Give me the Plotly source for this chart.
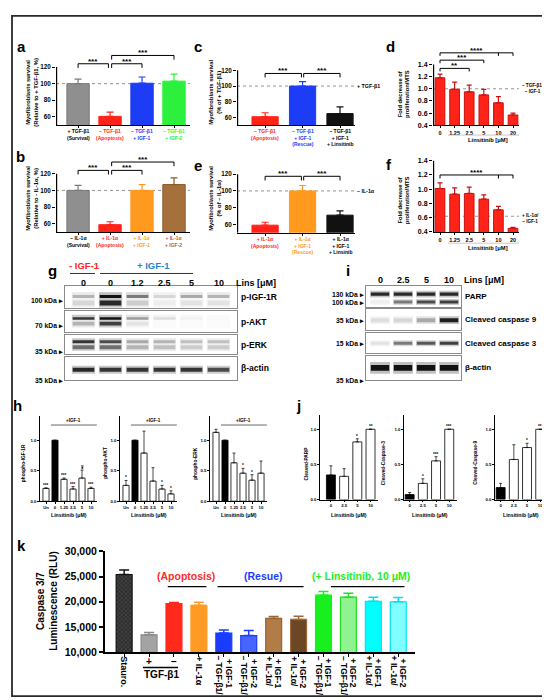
import plotly.graph_objects as go

W, H = 550, 700
FONT = "Liberation Sans"

RED = "#ff2318"
BLUE = "#1d3cf5"
GREEN = "#2cf03c"
ORANGE = "#ff9a1f"
BROWN = "#a5703c"
GRAY = "#8f8f8f"

# ---- a / b : myofibroblast survival (%) ----
a_labels = ["+ TGF-β1<br>(Survival)", "– TGF-β1<br>(Apoptosis)", "– TGF-β1<br>+ IGF-1", "– TGF-β1<br>+ IGF-2"]
a_vals = [100, 60.5, 100.5, 103]
a_err = [5.5, 5, 7.5, 8.5]
b_labels = ["– IL-1α<br>(Survival)", "+ IL-1α<br>(Apoptosis)", "+ IL-1α<br>+ IGF-1", "+ IL-1α<br>+ IGF-2"]
b_vals = [100, 59, 100, 107]
b_err = [6, 3.5, 7, 8]

# ---- c / e ----
c_labels = ["– TGF-β1<br>(Apoptosis)", "– TGF-β1<br>+ IGF-1<br>(Rescue)", "– TGF-β1<br>+ IGF-1<br>+ Linsitinib"]
c_vals = [61, 100, 65]
c_err = [5, 5.5, 8.5]
e_labels = ["+ IL-1α<br>(Apoptosis)", "+ IL-1α<br>+ IGF-1<br>(Rescue)", "+ IL-1α<br>+ IGF-1<br>+ Linsinib"]
e_vals = [59, 100, 71]
e_err = [3.5, 6.5, 5]

# ---- d / f : proliferation (MTS) ----
lins_df = ["0", "1.25", "2.5", "5", "10", "20"]
d_vals = [1.18, 0.99, 0.95, 0.90, 0.77, 0.57]
d_err = [0.06, 0.12, 0.11, 0.09, 0.10, 0.03]
f_vals = [1.01, 0.93, 0.94, 0.86, 0.71, 0.45]
f_err = [0.08, 0.09, 0.09, 0.06, 0.05, 0.015]

# ---- g blot : band intensity per lane (0 none .. 1 saturated) ----
g_lanes = ["0", "0", "1.2", "2.5", "5", "10"]
g_pigf1r = [0.3, 1.0, 0.55, 0.15, 0.35, 0.3]
g_pigf1r_low = [0.15, 0.9, 0.2, 0.05, 0.1, 0.1]
g_pakt = [0.85, 1.0, 0.4, 0.12, 0.04, 0.0]
g_pakt_low = [0.3, 0.8, 0.1, 0.0, 0.0, 0.0]
g_perk_up = [0.85, 0.75, 0.35, 0.3, 0.25, 0.25]
g_perk_low = [0.6, 0.6, 0.3, 0.25, 0.2, 0.2]
g_actin = [0.9, 0.85, 0.85, 0.85, 0.85, 0.75]

# ---- i blot ----
i_lanes = ["0", "2.5", "5", "10"]
i_parp_full = [0.9, 0.9, 0.9, 0.9]
i_parp_cleaved = [0.05, 0.55, 0.75, 0.8]
i_casp9 = [0.12, 0.15, 0.35, 0.95]
i_casp3 = [0.1, 0.55, 0.7, 0.8]
i_actin = [1.0, 1.0, 1.0, 1.0]

# ---- h : densitometry ----
h_lanes = ["Un", "0", "1.25", "2.5", "5", "10"]
h_igf1r = [0.21, 1.0, 0.36, 0.2, 0.38, 0.21]
h_igf1r_err = [0.01, 0, 0.02, 0.04, 0.13, 0.02]
h_igf1r_sig = ["***", "", "***", "***", "¥", "***"]
h_akt = [0.26, 1.0, 0.79, 0.33, 0.2, 0.12]
h_akt_err = [0.08, 0, 0.36, 0.22, 0.06, 0.05]
h_akt_sig = ["*", "", "", "", "*", "*"]
h_erk = [1.13, 1.0, 0.63, 0.46, 0.345, 0.46]
h_erk_err = [0.05, 0, 0.16, 0.08, 0.09, 0.2]
h_erk_sig = ["", "", "", "*", "*", ""]

# ---- j ----
j_lanes = ["0", "2.5", "5", "10"]
j_parp = [0.35, 0.33, 0.82, 1.0]
j_parp_err = [0.13, 0.11, 0.045, 0]
j_parp_sig = ["", "", "*", "**"]
j_casp3 = [0.07, 0.23, 0.55, 1.0]
j_casp3_err = [0.03, 0.065, 0.06, 0]
j_casp3_sig = ["", "*", "***", "***"]
j_casp9 = [0.17, 0.57, 0.74, 1.0]
j_casp9_err = [0.06, 0.21, 0.06, 0]
j_casp9_sig = ["", "", "*", "**"]

# ---- k : caspase 3/7 ----
k_vals = [25400, 13450, 19650, 19300, 13800, 13300, 16700, 16500, 21300, 20900, 20100, 20000]
k_err = [900, 450, 200, 600, 600, 1000, 350, 600, 750, 800, 800, 850]
k_label1 = ["Stauro.", "+", "–", "+ IL-1α", "– TGF-β1/", "– TGF-β1/", "+ IL-1α/", "+ IL-1α/",
            "– TGF-β1/", "– TGF-β1/", "+ IL-1α/", "+ IL-1α/"]
k_label2 = ["", "", "", "", "+ IGF-1", "+ IGF-2", "+ IGF-1", "+ IGF-2",
            "+ IGF-1", "+ IGF-2", "+ IGF-1", "+ IGF-2"]
k_groups = ["(Apoptosis)", "(Resue)", "(+ Linsitinib, 10 μM)"]
k_fill = ["#333333", "#a3a3a3", "#ff2a1c", "#ff9b25", "#1a3cff", "#4766ff", "#b27c47", "#6b4726",
          "#17ef1f", "#90f290", "#00ffff", "#80ffff"]
k_edge = ["#111111", "#8a8a8a", "#ff2a1c", "#ff9b25", "#1a3cff", "#1a3cff", "#9a6535", "#a0683a",
          "#17ef1f", "#22dd22", "#00e0f0", "#00e0f0"]

fig = go.Figure()
fig.update_layout(width=W, height=H, margin=dict(l=0, r=0, t=0, b=0),
                  paper_bgcolor="white", plot_bgcolor="white", barmode="overlay",
                  showlegend=False, font=dict(family=FONT, color="black"))
n_axes = [0]


def add_axes(xd, yd, xr, yr, xkw=None, ykw=None):
    # xd / yd are pixel boxes: (left, right), (top, bottom)
    n_axes[0] += 1
    s = "" if n_axes[0] == 1 else str(n_axes[0])
    xa = dict(domain=[xd[0] / W, xd[1] / W], range=xr, anchor="y" + s, showgrid=False,
              zeroline=False, showticklabels=False, ticks="", tickangle=0)
    ya = dict(domain=[1 - yd[1] / H, 1 - yd[0] / H], range=yr, anchor="x" + s, showgrid=False,
              zeroline=False, showticklabels=False, ticks="")
    xa.update(xkw or {})
    ya.update(ykw or {})
    fig.update_layout(**{"xaxis" + s: xa, "yaxis" + s: ya})
    return "x" + s, "y" + s


def ann(x, y, s, size, color="black", xref="paper", yref="paper", xanchor="center",
        yanchor="middle", angle=0, weight="bold", xshift=0, yshift=0):
    if xref == "paper":
        x = x / W
    if yref == "paper":
        y = 1 - y / H
    fig.add_annotation(x=x, y=y, xref=xref, yref=yref, text=s, showarrow=False,
                       xanchor=xanchor, yanchor=yanchor, textangle=angle, borderpad=0,
                       xshift=xshift, yshift=yshift,
                       font=dict(family=FONT, size=size, color=color, weight=weight))


def seg(x0, y0, x1, y1, xref="paper", yref="paper", color="black", width=1, dash=None,
        layer="above"):
    if xref == "paper":
        x0, x1 = x0 / W, x1 / W
    if yref == "paper":
        y0, y1 = 1 - y0 / H, 1 - y1 / H
    fig.add_shape(type="line", x0=x0, y0=y0, x1=x1, y1=y1, xref=xref, yref=yref,
                  line=dict(color=color, width=width, dash=dash), layer=layer)


def bracket(xa, ya, x1, x2, v, leg, stars, ticks=()):
    seg(x1, v, x2, v, xa, ya, width=1)
    for xx in (x1, x2) + tuple(ticks):
        seg(xx, v, xx, v - leg, xa, ya, width=1)
    ann((x1 + x2) / 2, v, stars, 8, xref=xa, yref=ya, yanchor="bottom", yshift=-3)


def tfont(size):
    return dict(family=FONT, size=size, color="black", weight="bold")


def survival(xd, ybot, scale, ymax, xr, labels, lab_colors, vals, errs, fills, edges,
             lab_top, title, title_xy, brackets, ref=None):
    ytop = ybot - (ymax - 50) * scale
    xa, ya = add_axes(xd, (ytop, ybot), xr, [50, ymax],
                      xkw=dict(showline=True, linecolor="black", linewidth=1.2, ticks="outside",
                               ticklen=2, tickwidth=1, tickcolor="black",
                               tickvals=list(range(len(vals)))),
                      ykw=dict(ticks="outside", ticklen=3, tickwidth=1.2, tickcolor="black",
                               tickvals=[60, 80, 100, 120], showticklabels=True,
                               tickfont=tfont(6.3)))
    eps = 0.6 * (xr[1] - xr[0]) / (xd[1] - xd[0])
    seg(xr[0] + eps, 50, xr[0] + eps, 120, xa, ya, width=1.2)
    seg(xr[0], 100, xr[1], 100, xa, ya, color="#777777", width=0.8, dash="dot", layer="below")
    for i in range(len(vals)):
        fig.add_bar(x=[i], y=[vals[i]], width=0.7, xaxis=xa, yaxis=ya,
                    marker=dict(color=fills[i], line=dict(color=edges[i], width=1)),
                    error_y=dict(type="data", symmetric=False, array=[errs[i]], arrayminus=[0],
                                 color=edges[i], thickness=1.2, width=3.5))
        ann(i, lab_top, labels[i], 5, lab_colors[i], xref=xa, yanchor="top")
    for b in brackets:
        bracket(xa, ya, *b)
    ann(title_xy[0], title_xy[1], title, 5.8, angle=-90)
    if ref:
        ann(xd[1] + 1, 100, ref, 5.3, yref=ya, xanchor="left")


def mts(ybot, scale, ymax, vals, errs, brackets, ref_v, ref_text, ref_y, title_y, lab_y):
    xd, xr = (425, 511), [-0.48, 5.41]
    ytop = ybot - (ymax - 0.4) * scale
    yt = [0.4, 0.6, 0.8, 1.0, 1.2, 1.4]
    xa, ya = add_axes(xd, (ytop, ybot), xr, [0.4, ymax],
                      xkw=dict(showline=True, linecolor="black", linewidth=1.2, ticks="outside",
                               ticklen=2, tickwidth=1, tickcolor="black",
                               tickvals=list(range(6)), ticktext=lins_df,
                               showticklabels=True, tickfont=tfont(5.5)),
                      ykw=dict(ticks="outside", ticklen=3, tickwidth=1.2, tickcolor="black",
                               tickvals=yt, ticktext=["%.1f" % t for t in yt],
                               showticklabels=True, tickfont=tfont(7)))
    eps = 0.6 * (xr[1] - xr[0]) / (xd[1] - xd[0])
    seg(xr[0] + eps, 0.4, xr[0] + eps, 1.4, xa, ya, width=1.2)
    seg(xr[0], ref_v, xr[1], ref_v, xa, ya, color="#777777", width=0.8, dash="dot",
        layer="below")
    fig.add_bar(x=list(range(6)), y=vals, width=0.66, xaxis=xa, yaxis=ya,
                marker=dict(color=RED, line=dict(color="#c81010", width=1)),
                error_y=dict(type="data", symmetric=False, array=errs, arrayminus=[0] * 6,
                             color="#c81010", thickness=1.2, width=2.5))
    for b in brackets:
        bracket(xa, ya, *b)
    ann(480, lab_y, "Linsitinib [μM]", 5.8)
    seg(440, lab_y - 4.5, 511, lab_y - 4.5, color="#bbbbbb", width=0.8)
    ann(513, ref_y, ref_text, 4.6, xanchor="left")
    ann(395.5, title_y, "Fold decrease of<br>proliferation/MTS", 5.8, angle=-90)


def density(x0, xr, spacing, ybot, scale, ymax, lanes, vals, errs, sig, dark, title,
            title_x, igf=False):
    n = len(vals)
    xd = (x0, x0 + (xr[1] - xr[0]) * spacing)
    ytop = ybot - ymax * scale
    xa, ya = add_axes(xd, (ytop, ybot), xr, [0, ymax],
                      xkw=dict(showline=True, linecolor="black", linewidth=0.8, ticks="outside",
                               ticklen=1.5, tickwidth=0.6, tickcolor="black",
                               tickvals=list(range(n)), ticktext=lanes, showticklabels=True,
                               tickfont=tfont(4.3), tickangle=0),
                      ykw=dict(showline=True, linecolor="black", linewidth=0.8, ticks="outside",
                               ticklen=1.5, tickwidth=0.6, tickcolor="black",
                               tickvals=[0, 0.5, 1.0], ticktext=["0.0", "0.5", "1.0"],
                               showticklabels=True, tickfont=tfont(4.3)))
    fills = ["black" if i == dark else "white" for i in range(n)]
    fig.add_bar(x=list(range(n)), y=vals, width=0.68, xaxis=xa, yaxis=ya,
                marker=dict(color=fills, line=dict(color="black", width=0.8)),
                error_y=dict(type="data", symmetric=False, array=errs, arrayminus=[0] * n,
                             color="black", thickness=0.7, width=1.5))
    for i, s in enumerate(sig):
        if s:
            ann(i, vals[i] + errs[i], s, 4.5, xref=xa, yref=ya, yanchor="bottom", yshift=-1)
    ann(title_x, 457, title, 4.8, angle=-90)
    ann((xd[0] + xd[1]) / 2, 510, "Linsitinib (μM)", 5.2)
    if igf:
        seg(0.55, 1.25, xr[1] - 0.05, 1.25, xa, ya, width=0.6)
        ann(3.1, 1.26, "+IGF-1", 4.5, xref=xa, yref=ya, yanchor="bottom")


def shade(v):
    lv = int(round(250 - v * 232))
    return "rgb(%d,%d,%d)" % (lv, lv, lv)


def blot(xd, yd, xr, rows, label, label_x, label_size):
    h = yd[1] - yd[0]
    xa, ya = add_axes(xd, yd, xr, [h, 0],
                      xkw=dict(showline=True, mirror=True, linecolor="#8a8a8a", linewidth=0.8),
                      ykw=dict(showline=True, mirror=True, linecolor="#8a8a8a", linewidth=0.8))
    for center, thick, inten in rows:
        n = len(inten)
        # soft halo then core band
        fig.add_bar(x=list(range(n)), y=[thick * 2.0] * n, base=[center - thick] * n,
                    width=0.86, xaxis=xa, yaxis=ya,
                    marker=dict(color=[shade(v * 0.25) for v in inten], line=dict(width=0)))
        fig.add_bar(x=list(range(n)), y=[thick] * n, base=[center - thick / 2] * n,
                    width=0.8, xaxis=xa, yaxis=ya,
                    marker=dict(color=[shade(v) for v in inten], line=dict(width=0)))
    ann(label_x, (yd[0] + yd[1]) / 2, label, label_size, xanchor="left")
    return xa


# ---------- panels a, b ----------
ann(13, 33, "a", 15)
survival((48, 182), 113, 0.843, 140, [-0.69, 3.5], a_labels, ["black", RED, BLUE, GREEN],
         a_vals, a_err, [GRAY, RED, BLUE, GREEN], ["#7a7a7a", RED, BLUE, GREEN], 115,
         "Myofibroblasts survival<br>(Relative to + TGF-β1, %)", (24, 80),
         [(0, 0.95, 124, 5, "***"), (1.05, 2, 124, 5, "***"), (1.05, 3, 134, 5, "***")])
ann(12, 145, "b", 15)
survival((48, 182), 222, 0.85, 140, [-0.69, 3.5], b_labels, ["black", RED, ORANGE, "#b5603a"],
         b_vals, b_err, [GRAY, RED, ORANGE, BROWN], ["#7a7a7a", RED, ORANGE, "#8a5a2a"], 224,
         "Myofibroblasts survival<br>(Relative to - IL-1α, %)", (24, 188),
         [(0, 0.95, 124, 5, "***"), (1.05, 2, 124, 5, "***"), (1.05, 3, 134, 5, "***")])

# ---------- panels c, e ----------
ann(190, 33, "c", 15)
survival((229, 347), 113.3, 0.8, 135, [-0.75, 2.4], c_labels, [RED, BLUE, "black"],
         c_vals, c_err, [RED, BLUE, "#111111"], [RED, BLUE, "#111111"], 114.5,
         "Myofibroblasts survival<br>(% of + TGF-β1)", (207, 80),
         [(0, 0.97, 116, 5, "***"), (1.03, 2, 116, 5, "***")], ref="+ TGF-β1")
ann(190, 154, "e", 15)
survival((229, 347), 222.5, 0.85, 135, [-0.75, 2.4], e_labels, [RED, ORANGE, "black"],
         e_vals, e_err, [RED, ORANGE, "#111111"], [RED, ORANGE, "#111111"], 224.5,
         "Myofibroblasts survival<br>(% of – IL-1α)", (207, 188),
         [(0, 0.97, 117.5, 5, "***"), (1.03, 2, 117.5, 5, "***")], ref="– IL-1α")

# ---------- panels d, f ----------
ann(382, 33, "d", 15)
mts(113.3, 62, 1.75, d_vals, d_err,
    [(0, 2, 1.335, 0.05, "**"), (0, 3, 1.47, 0.05, "***"), (0, 5, 1.59, 0.05, "****", (4,))],
    1.0, "– TGF-β1/<br>– IGF-1", 76, 82, 127.7)
ann(381, 153, "f", 15)
mts(221.7, 72.4, 1.6, f_vals, f_err, [(0, 5, 1.2, 0.05, "****", (4,))],
    0.62, "+ IL-1α/<br>– IGF-1", 208, 190, 237.7)

# ---------- panel g (blot) ----------
ann(44, 261, "g", 15)
ann(76, 256, "- IGF-1", 9.5, RED)
ann(145, 256, "+ IGF-1", 9.5, "#2a86cc")
seg(62, 264, 87, 264, color="#333333", width=1)
seg(92, 264, 185, 264, color="#333333", width=1)
gx = None
for strip, rows, name in [
        ((277, 299), [(12, 6, g_pigf1r), (17, 5, g_pigf1r_low)], "p-IGF-1R"),
        ((302, 324), [(9, 5, g_pakt), (13, 4, g_pakt_low)], "p-AKT"),
        ((327, 346), [(7, 4, g_perk_up), (12, 4, g_perk_low)], "p-ERK"),
        ((349, 372), [(13, 4, g_actin)], "β-actin")]:
    xa = blot((57, 229), strip, [-0.685, 5.685], rows, name, 232, 8.5)
    gx = gx or xa
for i, lab in enumerate(g_lanes):
    ann(i, 274, lab, 9, xref=gx)
ann(227, 274, "Lins [μM]", 9, xanchor="left")
for lab, y in [("100 kDa ▸", 292), ("70 kDa ▸", 317), ("35 kDa ▸", 343), ("35 kDa ▸", 373)]:
    ann(56, y, lab, 6.8, xanchor="right")

# ---------- panel i (blot) ----------
ann(340, 261, "i", 15)
ix = None
for strip, rows, name in [
        ((277, 298), [(8, 3.5, i_parp_full), (16, 3, i_parp_cleaved)], "PARP"),
        ((300, 322), [(11.5, 4, i_casp9)], "Cleaved caspase 9"),
        ((325, 345), [(10, 3, i_casp3)], "Cleaved caspase 3"),
        ((348, 372), [(12, 6, i_actin)], "β-actin")]:
    xa = blot((358, 453), strip, [-0.61, 3.52], rows, name, 456, 8)
    ix = ix or xa
for i, lab in enumerate(i_lanes):
    ann(i, 271, lab, 9, xref=ix)
ann(455, 271, "Lins [μM]", 9, xanchor="left")
for lab, y in [("130 kDa ▸", 285), ("100 kDa ▸", 293.5), ("35 kDa ▸", 311.7),
               ("15 kDa ▸", 335), ("35 kDa ▸", 373)]:
    ann(357, y, lab, 6.8, xanchor="right")

# ---------- panel h ----------
ann(9, 398, "h", 15)
density(31.7, [-0.7, 5.7], 9, 495.7, 62, 1.4, h_lanes, h_igf1r, h_igf1r_err, h_igf1r_sig, 1,
        "phospho-IGF-1R", 15, igf=True)
density(111.7, [-0.7, 5.7], 9, 495.7, 62, 1.4, h_lanes, h_akt, h_akt_err, h_akt_sig, 1,
        "phospho-AKT", 96.7, igf=True)
density(201.7, [-0.7, 5.7], 9, 495.7, 62, 1.4, h_lanes, h_erk, h_erk_err, h_erk_sig, 1,
        "phospho-ERK", 186.7, igf=True)

# ---------- panel j ----------
ann(290, 398, "j", 15)
density(311.7, [-0.85, 3.55], 13.2, 494, 71.5, 1.2, j_lanes, j_parp, j_parp_err, j_parp_sig, 0,
        "Cleaved-PARP", 298.3)
density(395.7, [-0.45, 3.55], 13.2, 494, 71.5, 1.2, j_lanes, j_casp3, j_casp3_err, j_casp3_sig,
        0, "Cleaved-Caspase-3", 375)
density(486.7, [-0.45, 3.55], 13.2, 494, 71.5, 1.2, j_lanes, j_casp9, j_casp9_err, j_casp9_sig,
        0, "Cleaved-Caspase-9", 466.7)

# ---------- panel k ----------
ann(13, 541, "k", 15)
kt = [10000, 15000, 20000, 25000, 30000]
kx, ky = add_axes((96.7, 406.7), (546.7, 649.3), [-0.78, 11.66], [10000, 30000],
                  xkw=dict(showline=True, linecolor="black", linewidth=1.5, ticks="outside",
                           ticklen=3, tickwidth=1.2, tickcolor="black",
                           tickvals=list(range(12))),
                  ykw=dict(showline=True, linecolor="black", linewidth=1.5, ticks="outside",
                           ticklen=4, tickwidth=1.5, tickcolor="black", tickvals=kt,
                           ticktext=["{:,}".format(t) for t in kt], showticklabels=True,
                           tickfont=tfont(10.5)))
for i in range(12):
    mk = dict(color=k_fill[i], line=dict(color=k_edge[i], width=1.2))
    if i == 0:
        mk["pattern"] = dict(shape="x", fgcolor="#8c8c8c", bgcolor="#2e2e2e", size=3,
                             solidity=0.25)
    fig.add_bar(x=[i], y=[k_vals[i]], width=0.64, xaxis=kx, yaxis=ky, marker=mk,
                error_y=dict(type="data", symmetric=False, array=[k_err[i]], arrayminus=[0],
                             color=k_edge[i], thickness=1.5, width=5))
ann(39, 598, "Caspase 3/7<br>Luminescence (RLU)", 10, angle=-90)
for name, col, span, mid in [(k_groups[0], "#ff2a2a", (1.75, 3.3), 2.5),
                             (k_groups[1], "#1a3cff", (3.75, 7.2), 5.6),
                             (k_groups[2], "#22ee22", (8.3, 11.25), 9.5)]:
    ann(mid, 25100, name, 10.5, col, xref=kx, yref=ky)
    seg(span[0], 23000, span[1], 23000, kx, ky, width=1.3)
ann(0, 652, k_label1[0], 9, xref=kx, yanchor="top", angle=90)
ann(1, 659, k_label1[1], 10, xref=kx)
ann(2, 659, k_label1[2], 10, xref=kx)
seg(135, 665, 170, 665, width=1.5)
ann(1.5, 672, "TGF-β1", 10, xref=kx)
ann(3, 652, k_label1[3], 9, xref=kx, yanchor="top", angle=90)
for i in range(4, 12):
    ann(i, 652, k_label1[i], 8.5, xref=kx, yanchor="top", angle=90, xshift=-4.5)
    ann(i, 655, k_label2[i], 8.5, xref=kx, yanchor="top", angle=90, xshift=4.5)

# outer frame
fig.add_shape(type="rect", x0=4 / W, x1=545 / W, y0=1 - 694 / H, y1=1 - 2 / H,
              xref="paper", yref="paper", line=dict(color="#2a2a2a", width=1.8))

fig.write_html("out.html")
